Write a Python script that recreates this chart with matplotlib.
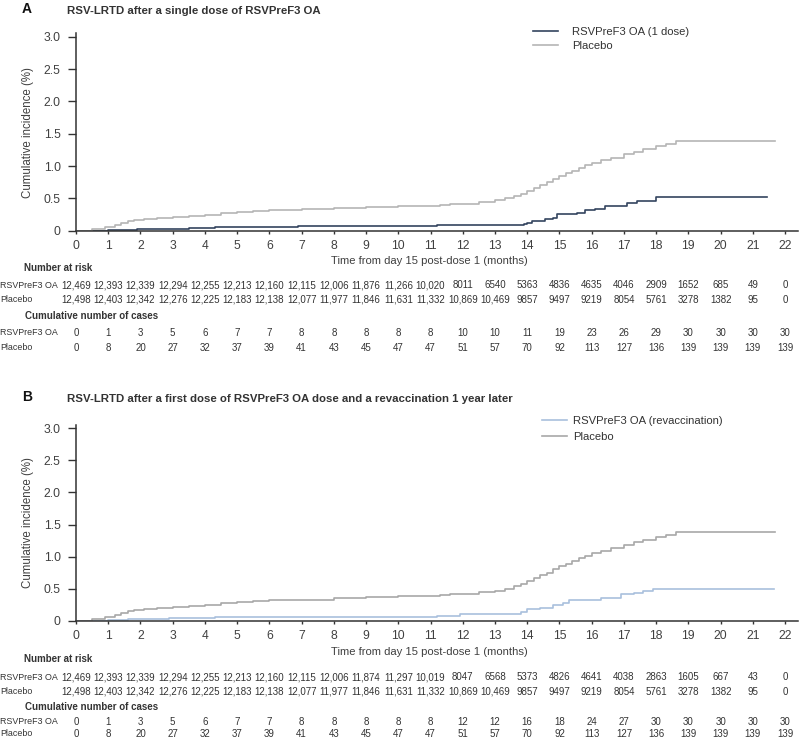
import matplotlib.pyplot as plt
from matplotlib.transforms import blended_transform_factory

plt.rcParams['font.family'] = ['Liberation Sans', 'DejaVu Sans']

W, H = 800, 738

months = list(range(23))

# Kaplan-Meier style curves: time (months), cumulative incidence (%)
placebo_t = [0, 0.5, 0.7, 0.9, 1.0, 1.2, 1.4, 1.6, 1.8, 2.1, 2.5, 3.0, 3.5, 4.0, 4.5,
             5.0, 5.5, 6.0, 7.0, 8.0, 9.0, 10.0, 11.3, 11.6, 12.0, 12.5, 13.0, 13.3,
             13.6, 13.8, 14.0, 14.2, 14.4, 14.6, 14.8, 15.0, 15.2, 15.4, 15.6, 15.8,
             16.0, 16.3, 16.6, 17.0, 17.3, 17.6, 18.0, 18.3, 18.6, 21.7]
placebo_v = [0, 0.02, 0.03, 0.05, 0.06, 0.09, 0.12, 0.15, 0.16, 0.18, 0.20, 0.21, 0.23,
             0.25, 0.27, 0.29, 0.31, 0.32, 0.33, 0.35, 0.37, 0.38, 0.40, 0.41, 0.42,
             0.44, 0.47, 0.50, 0.54, 0.57, 0.62, 0.66, 0.71, 0.75, 0.80, 0.85, 0.89,
             0.93, 0.97, 1.01, 1.05, 1.09, 1.13, 1.18, 1.22, 1.26, 1.31, 1.34, 1.385, 1.385]

rsv1_t = [0, 1.0, 1.9, 2.9, 3.5, 4.3, 5.0, 6.9, 11.2, 13.9, 14.0, 14.15, 14.55, 14.8,
          14.93, 15.55, 15.8, 16.1, 16.4, 17.1, 17.4, 18.0, 21.45]
rsv1_v = [0, 0.01, 0.02, 0.03, 0.04, 0.05, 0.06, 0.07, 0.085, 0.10, 0.12, 0.15, 0.18,
          0.20, 0.26, 0.27, 0.32, 0.34, 0.38, 0.43, 0.46, 0.52, 0.52]

rsv2_t = [0, 1.0, 1.6, 2.9, 4.3, 7.0, 11.2, 11.9, 13.6, 13.8, 14.0, 14.4, 14.8, 15.1,
          15.3, 16.3, 16.9, 17.3, 17.6, 17.9, 21.65]
rsv2_v = [0, 0.01, 0.02, 0.04, 0.05, 0.055, 0.075, 0.10, 0.11, 0.13, 0.18, 0.20, 0.24,
          0.28, 0.33, 0.36, 0.41, 0.43, 0.46, 0.50, 0.50]

risk_rsv_a = ["12,469", "12,393", "12,339", "12,294", "12,255", "12,213", "12,160",
              "12,115", "12,006", "11,876", "11,266", "10,020", "8011", "6540", "5363",
              "4836", "4635", "4046", "2909", "1652", "685", "49", "0"]
risk_rsv_b = ["12,469", "12,393", "12,339", "12,294", "12,255", "12,213", "12,160",
              "12,115", "12,006", "11,874", "11,297", "10,019", "8047", "6568", "5373",
              "4826", "4641", "4038", "2863", "1605", "667", "43", "0"]
risk_placebo = ["12,498", "12,403", "12,342", "12,276", "12,225", "12,183", "12,138",
                "12,077", "11,977", "11,846", "11,631", "11,332", "10,869", "10,469",
                "9857", "9497", "9219", "8054", "5761", "3278", "1382", "95", "0"]

cases_rsv_a = [0, 1, 3, 5, 6, 7, 7, 8, 8, 8, 8, 8, 10, 10, 11, 19, 23, 26, 29, 30, 30, 30, 30]
cases_rsv_b = [0, 1, 3, 5, 6, 7, 7, 8, 8, 8, 8, 8, 12, 12, 16, 18, 24, 27, 30, 30, 30, 30, 30]
cases_placebo = [0, 8, 20, 27, 32, 37, 39, 41, 43, 45, 47, 47, 51, 57, 70, 92, 113, 127,
                 136, 139, 139, 139, 139]

TXT = '#333333'
fig = plt.figure(figsize=(W / 100, H / 100), dpi=100)


def fx(x):
    return x / W


def fy(y):
    return 1 - y / H


def panel(letter, title, y_title, y_zero, y_three, rsv_t, rsv_v, rsv_label, rsv_color,
          plc_color, leg_x, leg_y, leg_pad, leg_space, risk_rsv, cases_rsv, rows):
    top = y_zero - (y_zero - y_three) / 3.0 * 3.05
    ax = fig.add_axes([fx(76), fy(y_zero), 722 / W, (y_zero - top) / H])
    ax.step(rsv_t, rsv_v, where='post', color=rsv_color, lw=1.2, label=rsv_label)
    ax.step(placebo_t, placebo_v, where='post', color=plc_color, lw=1.2, label='Placebo')
    ax.set_xlim(0, 22.4)
    ax.set_ylim(0, 3.05)
    ax.set_xticks(months)
    ax.set_yticks([0, 0.5, 1.0, 1.5, 2.0, 2.5, 3.0])
    ax.set_yticklabels(['0', '0.5', '1.0', '1.5', '2.0', '2.5', '3.0'])
    for s in ['top', 'right']:
        ax.spines[s].set_visible(False)
    for s in ['left', 'bottom']:
        ax.spines[s].set_color('#333333')
        ax.spines[s].set_linewidth(1.1)
    ax.tick_params(axis='x', length=2.5, width=1.0, pad=4, labelsize=8.7,
                   colors='#333333', labelcolor='#404040')
    ax.tick_params(axis='y', length=5.5, width=1.0, pad=5.5, labelsize=8.7,
                   colors='#333333', labelcolor='#404040')
    ax.set_ylabel('Cumulative incidence (%)', fontsize=8.3, color='#404040')
    ax.yaxis.set_label_coords((34 - 76) / 722, 0.5)

    fig.text(fx(22), fy(y_title - 1.5), letter, fontsize=10, fontweight='bold',
             color='#111111', va='center')
    fig.text(fx(67), fy(y_title), title, fontsize=8.2, fontweight='bold',
             color=TXT, va='center')

    ax.legend(loc='upper left', bbox_to_anchor=(fx(leg_x), fy(leg_y)),
              bbox_transform=fig.transFigure, frameon=False, borderpad=0,
              borderaxespad=0, handlelength=2.2, handletextpad=leg_pad,
              labelspacing=leg_space, fontsize=8.1, labelcolor='#333333')

    tr = blended_transform_factory(ax.transData, fig.transFigure)
    y_xl, y_rh, y_r1, y_r2, y_ch, y_c1, y_c2 = rows
    fig.text(fx(429), fy(y_xl), 'Time from day 15 post-dose 1 (months)', fontsize=8.1,
             color='#404040', ha='center', va='center')
    fig.text(fx(24), fy(y_rh), 'Number at risk', fontsize=7, fontweight='bold',
             color=TXT, va='center')
    fig.text(fx(25), fy(y_ch), 'Cumulative number of cases', fontsize=7,
             fontweight='bold', color=TXT, va='center')
    for lab, yy in [('RSVPreF3 OA', y_r1), ('Placebo', y_r2),
                    ('RSVPreF3 OA', y_c1), ('Placebo', y_c2)]:
        fig.text(fx(0.5), fy(yy), lab, fontsize=6.4, color=TXT, va='center')
    for m in months:
        ax.text(m, fy(y_r1), risk_rsv[m], transform=tr, fontsize=7, color=TXT,
                ha='center', va='center')
        ax.text(m, fy(y_r2), risk_placebo[m], transform=tr, fontsize=7, color=TXT,
                ha='center', va='center')
        ax.text(m, fy(y_c1), str(cases_rsv[m]), transform=tr, fontsize=7, color=TXT,
                ha='center', va='center')
        ax.text(m, fy(y_c2), str(cases_placebo[m]), transform=tr, fontsize=7,
                color=TXT, ha='center', va='center')
    return ax


panel('A', 'RSV-LRTD after a single dose of RSVPreF3 OA', 10.7, 230.7, 36.7,
      rsv1_t, rsv1_v, 'RSVPreF3 OA (1 dose)', '#34445f', '#b5b5b5',
      533, 27, 1.25, 0.35, risk_rsv_a, cases_rsv_a,
      (261, 268, 285, 300, 316, 333, 348))

panel('B', 'RSV-LRTD after a first dose of RSVPreF3 OA dose and a revaccination 1 year later',
      399, 620.7, 428.3,
      rsv2_t, rsv2_v, 'RSVPreF3 OA (revaccination)', '#a9c0dd', '#a8a8a8',
      542, 416, 0.55, 0.5, risk_rsv_b, cases_rsv_b,
      (652, 659, 677, 692, 707, 722, 734))

fig.savefig('out.png', dpi=100)
